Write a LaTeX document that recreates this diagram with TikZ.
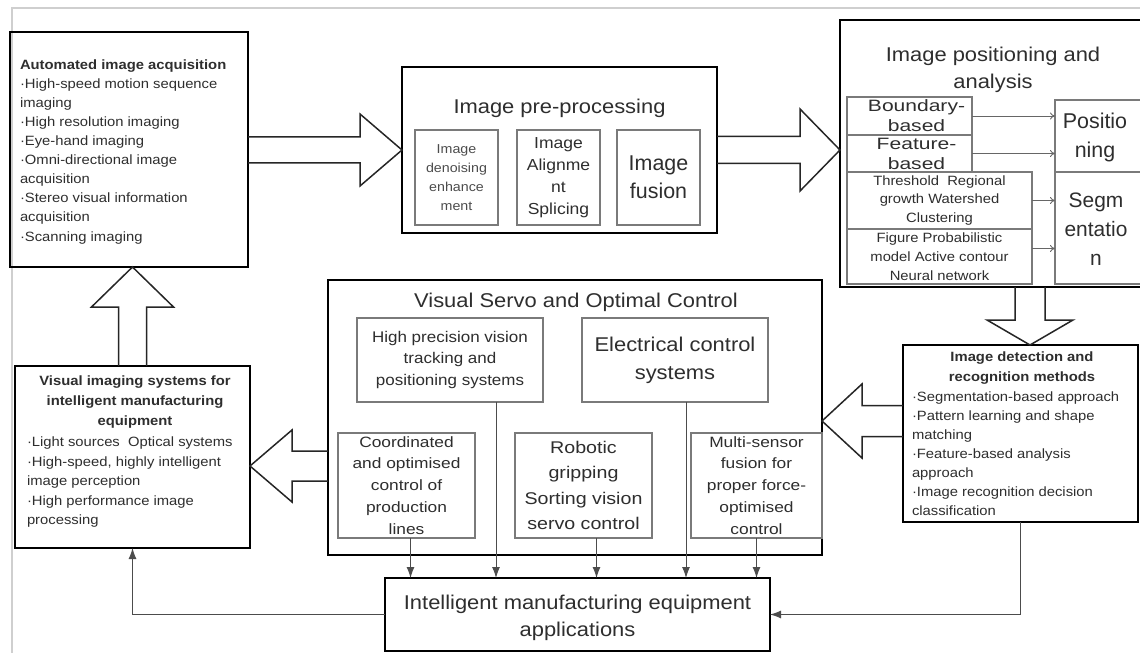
\documentclass[tikz,border=0pt]{standalone}
\usepackage{fontspec}
\setmainfont{Liberation Sans}
\newfontfamily\sfa[FakeStretch=1.10]{Liberation Sans}
\newfontfamily\sfb[FakeStretch=1.16]{Liberation Sans}
\newfontfamily\sfc[FakeStretch=1.28]{Liberation Sans}
\usetikzlibrary{calc,arrows.meta}
\definecolor{txt}{HTML}{2E2E2E}
\definecolor{subline}{HTML}{7A7A7A}
\definecolor{framecol}{HTML}{CFCFCF}
\tikzset{
  mainbox/.style={draw=black, line width=2.6bp, inner sep=0pt, outer sep=0pt},
  subbox/.style={draw=subline, line width=1.1bp, inner sep=0pt, outer sep=0pt},
  hollow/.style={draw=black!85, line width=1.5bp, line join=miter},
  conn/.style={draw=black!70, line width=1bp, -{Latex[length=11bp,width=8bp]}},
  thinarrow/.style={draw=black!60, line width=0.9bp, -{To[length=5bp,width=7bp]}},
  txtnode/.style={inner sep=0pt, outer sep=0pt, text=txt},
}
\begin{document}
\begin{tikzpicture}[x=1bp,y=-1bp]
\fill[white] (0,0) rectangle (1140,653);
\useasboundingbox (0,0) rectangle (1140,653);
\draw[framecol, line width=1.5bp] (12,660) -- (12,8) -- (1145,8);

% ---------- main boxes ----------
\node[mainbox, minimum width=238bp, minimum height=235bp] (A) at (129,149.5) {};
\node[mainbox, minimum width=315bp, minimum height=166bp] (B) at (559.5,150) {};
\node[mainbox, minimum width=310bp, minimum height=267bp] (C) at (995,153.5) {};
\node[mainbox, minimum width=235bp, minimum height=177bp] (D) at (1020.5,433.5) {};
\node[mainbox, minimum width=494bp, minimum height=275bp] (E) at (575,417.5) {};
\node[mainbox, minimum width=385bp, minimum height=73bp] (F) at (577.5,614.5) {};
\node[mainbox, minimum width=235bp, minimum height=182bp] (G) at (132.5,457) {};

% ---------- box A text ----------
\node[txtnode, anchor=north west, align=left, font=\sfa\fontsize{13.5}{19.1}\selectfont] (At) at (20,60)
 {\textbf{Automated image acquisition}\\
  ·High-speed motion sequence\\
  imaging\\
  ·High resolution imaging\\
  ·Eye-hand imaging\\
  ·Omni-directional image\\
  acquisition\\
  ·Stereo visual information\\
  acquisition\\
  ·Scanning imaging};

% ---------- box B ----------
\node[txtnode, font=\sfa\fontsize{20}{26}\selectfont] (Bt) at (559.5,108) {Image pre-processing};
\node[subbox, minimum width=83bp, minimum height=95bp] (B1) at (456.5,177.5) {};
\node[subbox, minimum width=83bp, minimum height=95bp] (B2) at (558.5,177.5) {};
\node[subbox, minimum width=83bp, minimum height=95bp] (B3) at (658.5,177.5) {};
\node[txtnode, align=center, text=black!70, font=\sfa\fontsize{13}{19}\selectfont] (B1t) at (B1.center) {Image\\denoising\\enhance\\ment};
\node[txtnode, align=center, font=\sfa\fontsize{16}{22}\selectfont] (B2t) at (B2.center) {Image\\Alignme\\nt\\Splicing};
\node[txtnode, align=center, font=\fontsize{21.5}{28}\selectfont] (B3t) at (B3.center) {Image\\fusion};

% ---------- box C ----------
\node[txtnode, align=center, font=\sfa\fontsize{20}{27}\selectfont] (Ct) at (993,70) {Image positioning and\\analysis};
\node[subbox, minimum width=125bp, minimum height=38bp] (Cb) at (909.5,116) {};
\node[subbox, minimum width=125bp, minimum height=37bp] (Cf) at (909.5,153.5) {};
\node[subbox, minimum width=185bp, minimum height=57bp] (Ch) at (939.5,200.5) {};
\node[subbox, minimum width=185bp, minimum height=55bp] (Cg) at (939.5,256.5) {};
\node[subbox, minimum width=90bp, minimum height=72bp] (Cp) at (1100,136) {};
\node[subbox, minimum width=90bp, minimum height=112bp] (Cs) at (1100,228) {};
\node[txtnode, align=center, font=\sfc\fontsize{16.5}{20}\selectfont] (Cbt) at ($(Cb.center)+(7,0)$) {Boundary-\\based};
\node[txtnode, align=center, font=\sfc\fontsize{16.5}{20}\selectfont] (Cft) at ($(Cf.center)+(7,0)$) {Feature-\\based};
\node[txtnode, align=center, font=\sfa\fontsize{13.5}{18.5}\selectfont] (Cht) at (Ch.center) {Threshold\ \ Regional\\growth Watershed\\Clustering};
\node[txtnode, align=center, font=\sfa\fontsize{13.5}{19}\selectfont] (Cgt) at (Cg.center) {Figure Probabilistic\\model Active contour\\Neural network};
\node[txtnode, align=center, font=\fontsize{21.5}{29}\selectfont] (Cpt) at (1095,137.5) {Positio\\ning};
\node[txtnode, align=center, font=\fontsize{21}{29}\selectfont] (Cst) at (1096,229) {Segm\\entatio\\n};
\draw[thinarrow] (Cb.east) -- (Cp.west |- Cb.east);
\draw[thinarrow] (Cf.east) -- (Cp.west |- Cf.east);
\draw[thinarrow] (Ch.east) -- (Cs.west |- Ch.east);
\coordinate (cgA) at ($(Cg.east)+(0,-8)$);
\draw[thinarrow] (cgA) -- (Cs.west |- cgA);

% ---------- box D text ----------
\node[txtnode, align=center, font=\sfa\bfseries\fontsize{13.5}{20}\selectfont] (Dt) at (1022,368) {Image detection and\\recognition methods};
\node[txtnode, anchor=north west, align=left, font=\sfa\fontsize{13.5}{19}\selectfont] (Di) at (912,392)
 {·Segmentation-based approach\\
  ·Pattern learning and shape\\
  matching\\
  ·Feature-based analysis\\
  approach\\
  ·Image recognition decision\\
  classification};

% ---------- box E ----------
\node[txtnode, font=\sfa\fontsize{20}{26}\selectfont] (Et) at (576,302) {Visual Servo and Optimal Control};
\node[subbox, minimum width=186bp, minimum height=84bp] (HP) at (450,360) {};
\node[subbox, minimum width=186bp, minimum height=84bp] (EC) at (675,360) {};
\node[subbox, minimum width=137bp, minimum height=105bp] (CO) at (406.5,485.5) {};
\node[subbox, minimum width=137bp, minimum height=105bp] (RO) at (583.5,485.5) {};
\node[subbox, minimum width=131bp, minimum height=105bp] (MS) at (756.5,485.5) {};
\node[txtnode, align=center, font=\sfa\fontsize{15.5}{22}\selectfont] (HPt) at (HP.center) {High precision vision\\tracking and\\positioning systems};
\node[txtnode, align=center, font=\sfa\fontsize{20}{28}\selectfont] (ECt) at (EC.center) {Electrical control\\systems};
\node[txtnode, align=center, font=\sfb\fontsize{15}{22}\selectfont] (COt) at (CO.center) {Coordinated\\and optimised\\control of\\production\\lines};
\node[txtnode, align=center, font=\sfb\fontsize{17}{25.5}\selectfont] (ROt) at (RO.center) {Robotic\\gripping\\Sorting vision\\servo control};
\node[txtnode, align=center, font=\sfb\fontsize{15}{22}\selectfont] (MSt) at (MS.center) {Multi-sensor\\fusion for\\proper force-\\optimised\\control};

% ---------- box F ----------
\node[txtnode, align=center, font=\sfa\fontsize{20}{27}\selectfont] (Ft) at (577.5,618) {Intelligent manufacturing equipment\\applications};

% ---------- box G text ----------
\node[txtnode, align=center, font=\sfa\bfseries\fontsize{13.5}{20}\selectfont] (Gt) at (135,402) {Visual imaging systems for\\intelligent manufacturing\\equipment};
\node[txtnode, anchor=north west, align=left, font=\sfa\fontsize{13.5}{19.5}\selectfont] (Gi) at (27,437)
 {·Light sources\ \ Optical systems\\
  ·High-speed, highly intelligent\\
  image perception\\
  ·High performance image\\
  processing};

% ---------- hollow arrows ----------
% A -> B
\coordinate (abT) at (B.west);
\coordinate (abS) at (A.east |- abT);
\draw[hollow] ($(abS)+(0,-13)$) -- ($(abT)+(-42,-13)$) -- ($(abT)+(-42,-36)$) -- (abT)
  -- ($(abT)+(-42,36)$) -- ($(abT)+(-42,13)$) -- ($(abS)+(0,13)$);
% B -> C
\coordinate (bcS) at (B.east);
\coordinate (bcT) at (C.west |- bcS);
\draw[hollow] ($(bcS)+(0,-13.5)$) -- ($(bcT)+(-40,-13.5)$) -- ($(bcT)+(-40,-41)$) -- (bcT)
  -- ($(bcT)+(-40,41)$) -- ($(bcT)+(-40,13.5)$) -- ($(bcS)+(0,13.5)$);
% C -> D
\coordinate (cdT) at ($(D.north)+(9.5,0)$);
\coordinate (cdS) at (C.south -| cdT);
\draw[hollow] ($(cdS)+(-15,0)$) -- ($(cdT)+(-15,-25)$) -- ($(cdT)+(-43,-25)$) -- (cdT)
  -- ($(cdT)+(43,-25)$) -- ($(cdT)+(15,-25)$) -- ($(cdS)+(15,0)$);
% D -> E
\coordinate (deT) at ($(E.east)+(0,3.5)$);
\coordinate (deS) at (D.west |- deT);
\draw[hollow] ($(deS)+(0,-15.5)$) -- ($(deT)+(40,-15.5)$) -- ($(deT)+(40,-37)$) -- (deT)
  -- ($(deT)+(40,37)$) -- ($(deT)+(40,15.5)$) -- ($(deS)+(0,15.5)$);
% E -> G
\coordinate (egT) at ($(G.east)+(0,9)$);
\coordinate (egS) at (E.west |- egT);
\draw[hollow] ($(egS)+(0,-15)$) -- ($(egT)+(42,-15)$) -- ($(egT)+(42,-36)$) -- (egT)
  -- ($(egT)+(42,36)$) -- ($(egT)+(42,15)$) -- ($(egS)+(0,15)$);
% G -> A
\coordinate (gaS) at (G.north);
\coordinate (gaT) at (gaS |- A.south);
\draw[hollow] ($(gaS)+(-14,0)$) -- ($(gaT)+(-14,40)$) -- ($(gaT)+(-41,40)$) -- (gaT)
  -- ($(gaT)+(41,40)$) -- ($(gaT)+(14,40)$) -- ($(gaS)+(14,0)$);

% ---------- thin connectors ----------
\coordinate (k1) at ($(CO.south)+(4,0)$);
\coordinate (k2) at ($(HP.south east)+(-47,0)$);
\coordinate (k3) at ($(RO.south)+(13,0)$);
\coordinate (k4) at ($(EC.south)+(11,0)$);
\coordinate (k5) at (MS.south);
\foreach \k in {k1,k2,k3,k4,k5} { \draw[conn] (\k) -- (\k |- F.north); }
\draw[conn] (F.west) -| (G.south);
\draw[conn] (D.south) |- (F.east);
\end{tikzpicture}
\end{document}
